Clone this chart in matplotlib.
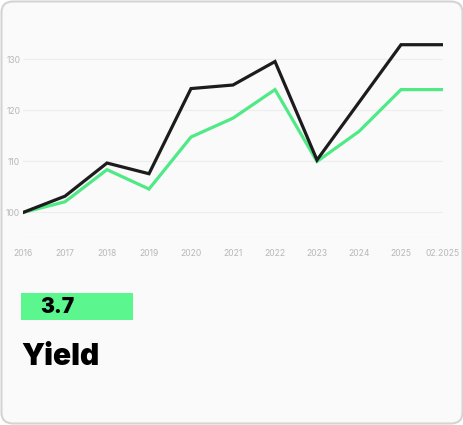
import matplotlib
matplotlib.use("Agg")
import matplotlib.pyplot as plt
from matplotlib.patches import FancyBboxPatch, Rectangle

categories = ["2016", "2017", "2018", "2019", "2020", "2021", "2022", "2023", "2024", "2025", "02.2025"]
series_black = [100.0, 103.2, 109.7, 107.6, 124.3, 125.0, 129.6, 110.3, 121.6, 132.9, 132.9]
series_green = [100.0, 102.1, 108.4, 104.6, 114.8, 118.5, 124.1, 110.0, 115.9, 124.1, 124.1]
y_ticks = [100, 110, 120, 130]
value_label = "3.7"
title_label = "Yield"

W, H = 464, 425
fig = plt.figure(figsize=(W / 100, H / 100), dpi=100)
fig.patch.set_facecolor("white")

# card background with border
card = FancyBboxPatch((1.5 / W, 1.5 / H), (W - 3) / W, (H - 3) / H,
                      boxstyle="round,pad=0,rounding_size=0.025",
                      transform=fig.transFigure, facecolor="#fafafa",
                      edgecolor="#d4d4d4", linewidth=1.5, zorder=-5)
fig.patches.append(card)

ymin, ymax = 95, 134
px_per_unit = 5.1
y_bottom_px = 238
top_px = y_bottom_px - (ymax - ymin) * px_per_unit
ax = fig.add_axes([23 / W, (H - y_bottom_px) / H, 420 / W, (y_bottom_px - top_px) / H])
ax.set_zorder(2)
ax.set_facecolor("none")
x = list(range(len(categories)))
ax.plot(x, series_green, color="#4fe986", linewidth=2.3, solid_joinstyle="miter", zorder=3)
ax.plot(x, series_black, color="#1c1c1c", linewidth=2.3, solid_joinstyle="miter", zorder=4)
ax.set_xlim(0, len(categories) - 1)
ax.set_ylim(ymin, ymax)
for v in y_ticks + [ymin]:
    ax.axhline(v, color="#eeeeee", linewidth=0.9, zorder=1)
ax.set_yticks(y_ticks)
ax.set_yticklabels([str(v) for v in y_ticks], fontsize=6.2, color="#b8b8b8", family="Inter")
ax.set_xticks(x)
ax.set_xticklabels(categories, fontsize=6.2, color="#b8b8b8", family="Inter")
ax.tick_params(axis="both", length=0)
ax.tick_params(axis="y", pad=2)
ax.tick_params(axis="x", pad=8)
for s in ax.spines.values():
    s.set_visible(False)

# value box
fig.patches.append(Rectangle((21 / W, (H - 320) / H), 112 / W, 27 / H,
                             transform=fig.transFigure, facecolor="#5cf68e",
                             edgecolor="none", zorder=1))
fig.text(40 / W, (H - 307) / H, value_label, fontsize=15, fontweight="black",
         family="Inter", color="#000000", va="center", ha="left", zorder=3)
fig.text(21 / W, (H - 357) / H, title_label, fontsize=21.5, fontweight="black",
         family="Inter", color="#000000", va="center", ha="left", zorder=3)

fig.savefig("out.png", dpi=100, facecolor="white")
